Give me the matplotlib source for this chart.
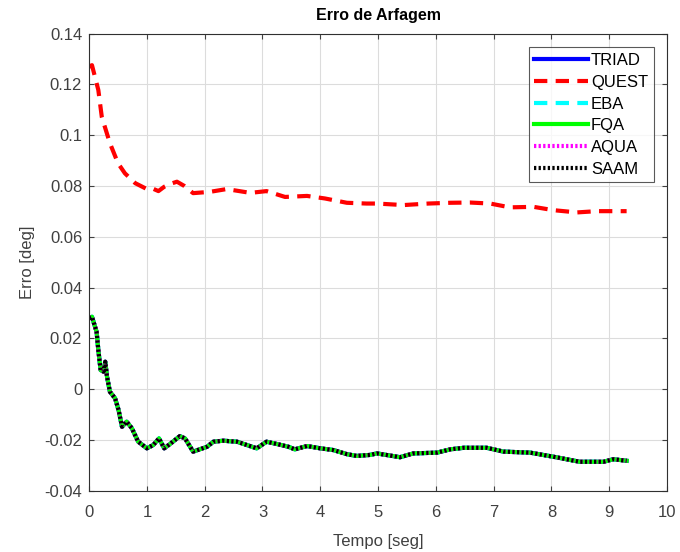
import numpy as np
import matplotlib
matplotlib.use("Agg")
import matplotlib.pyplot as plt

plt.rcParams['font.family'] = ['Liberation Sans', 'DejaVu Sans']

# QUEST error (red dashed)
t_quest = [0.0, 0.05, 0.16, 0.22, 0.36, 0.5, 0.62, 0.8, 1.0, 1.1, 1.2, 1.3, 1.4, 1.52,
           1.65, 1.8, 2.09, 2.38, 2.79, 3.07, 3.39, 3.77, 4.08, 4.46, 4.8, 4.98,
           5.44, 5.87, 6.25, 6.59, 6.94, 7.28, 7.69, 8.03, 8.44, 8.78, 9.24, 9.3]
e_quest = [0.127, 0.1276, 0.1178, 0.1072, 0.0969, 0.089, 0.085, 0.0811, 0.0788, 0.079,
           0.0780, 0.0797, 0.0808, 0.0817, 0.080, 0.0772, 0.0777, 0.0788, 0.0773, 0.078,
           0.0757, 0.0761, 0.0751, 0.0734, 0.0731, 0.0731, 0.0725, 0.0731, 0.0734,
           0.0735, 0.0731, 0.0716, 0.0718, 0.0705, 0.0696, 0.0701, 0.0701, 0.0701]

# TRIAD / EBA / FQA / AQUA / SAAM error (overlapping)
t_rest = [0.0, 0.05, 0.13, 0.16, 0.2, 0.25, 0.28, 0.31, 0.36, 0.45, 0.51, 0.57, 0.65,
          0.74, 0.85, 1.0, 1.11, 1.21, 1.3, 1.4, 1.57, 1.66, 1.8, 2.04, 2.15, 2.32,
          2.56, 2.73, 2.9, 3.07, 3.25, 3.45, 3.56, 3.77, 4.0, 4.23, 4.46, 4.63, 4.86,
          4.98, 5.38, 5.61, 6.02, 6.25, 6.48, 6.88, 7.17, 7.63, 8.03, 8.49, 8.9, 9.07,
          9.3]
e_rest = [0.028, 0.0285, 0.0226, 0.0154, 0.0075, 0.0069, 0.0108, 0.005, -0.001, -0.0036,
          -0.0082, -0.0148, -0.0128, -0.0154, -0.0207, -0.0233, -0.022, -0.0194,
          -0.0233, -0.0216, -0.0185, -0.0194, -0.0246, -0.0227, -0.0207, -0.0203,
          -0.0207, -0.022, -0.0233, -0.0207, -0.0216, -0.0227, -0.0237, -0.0224,
          -0.0233, -0.024, -0.0256, -0.0263, -0.0259, -0.0253, -0.0268, -0.0253,
          -0.025, -0.0237, -0.0231, -0.0231, -0.0246, -0.025, -0.0266, -0.0286,
          -0.0286, -0.0276, -0.0282]

fig = plt.figure(figsize=(6.8, 5.52), dpi=100)
ax = fig.add_axes([0.131, 0.111, 0.85, 0.828])

lw = 3
dash = (0, (3.2, 2))
dots = (0, (0.55, 0.55))
ax.plot(t_rest, e_rest, color='#0000ff', lw=lw, label='TRIAD')
ax.plot(t_quest, e_quest, color='#ff0000', lw=lw, ls=dash, label='QUEST')
ax.plot(t_rest, e_rest, color='#00ffff', lw=lw, ls=dash, label='EBA')
ax.plot(t_rest, e_rest, color='#00ff00', lw=lw, label='FQA')
ax.plot(t_rest, e_rest, color='#ff00ff', lw=lw, ls=dots, label='AQUA')
ax.plot(t_rest, e_rest, color='#000000', lw=lw, ls=dots, label='SAAM')

ax.set_xlim(0, 10)
ax.set_ylim(-0.04, 0.14)
ax.set_xticks(np.arange(0, 11, 1))
ax.set_yticks(np.arange(-0.04, 0.141, 0.02))
ax.set_yticklabels(['-0.04', '-0.02', '0', '0.02', '0.04', '0.06', '0.08', '0.1', '0.12', '0.14'])
ax.grid(True, color='#dcdcdc', lw=0.8)
ax.tick_params(direction='in', top=True, right=True, labelsize=12, colors='#404040')
ax.tick_params(axis='x', pad=10)
ax.tick_params(axis='y', pad=5)
for s in ax.spines.values():
    s.set_color('#303030')

ax.set_title('Erro de Arfagem', fontsize=11.5, fontweight='bold', pad=9.5)
ax.set_xlabel('Tempo [seg]', fontsize=12, color='#404040', labelpad=10)
ax.set_ylabel('Erro [deg]', fontsize=12, color='#404040', labelpad=7)

leg = ax.legend(loc='upper right', fontsize=12, fancybox=False, handlelength=3.2,
                handletextpad=0.2, borderpad=0.35, labelspacing=0.4,
                borderaxespad=0, bbox_to_anchor=(0.9775, 0.970))
leg.get_frame().set_edgecolor('#303030')
leg.get_frame().set_linewidth(0.8)

fig.savefig('out.png', dpi=100)
